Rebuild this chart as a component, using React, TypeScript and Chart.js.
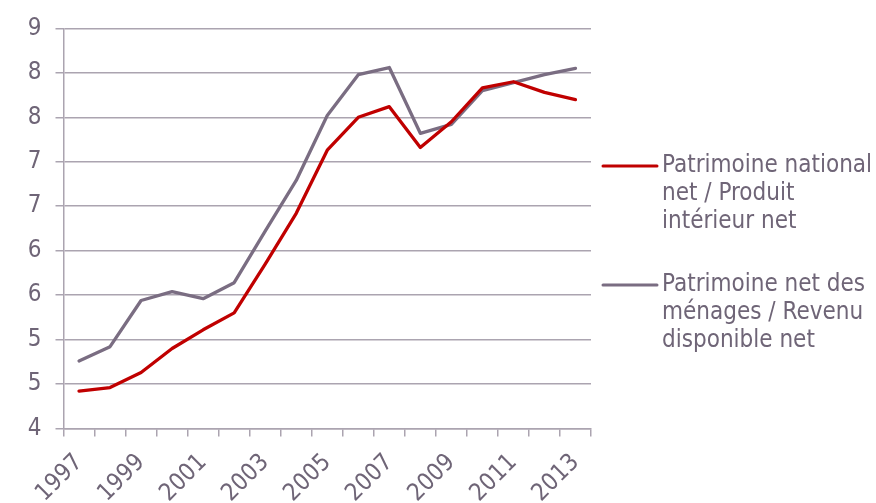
import React, { useEffect, useRef } from "react";
import { Chart, registerables } from "chart.js";

Chart.register(...registerables);

const years = ["1997","1998","1999","2000","2001","2002","2003","2004","2005","2006","2007","2008","2009","2010","2011","2012","2013"];
const patrimoineNational = [4.42, 4.46, 4.63, 4.90, 5.11, 5.30, 5.85, 6.42, 7.13, 7.50, 7.62, 7.16, 7.45, 7.83, 7.90, 7.78, 7.70];
const patrimoineMenages = [4.76, 4.92, 5.44, 5.54, 5.46, 5.64, 6.22, 6.79, 7.52, 7.98, 8.06, 7.32, 7.42, 7.80, 7.89, 7.98, 8.05];
const legendNational = ["Patrimoine national", "net / Produit", "intérieur net"];
const legendMenages = ["Patrimoine net des", "ménages / Revenu", "disponible net"];
const yMin = 4;
const yMax = 8.5;
const yStep = 0.5;

const RED = "#C00000";
const GRAY = "#7A6D82";
const TEXT = "#6F6577";
const GRID = "#ABA4B0";
const FONT = "'DejaVu Sans Condensed', 'Open Sans', sans-serif";

const legendPlugin = {
  id: "customLegend",
  afterDraw(chart: any) {
    const { ctx, chartArea } = chart;
    const items = [
      { color: RED, lines: legendNational, y: 166 },
      { color: GRAY, lines: legendMenages, y: 285 },
    ];
    const x0 = chartArea.right + 12;
    ctx.save();
    ctx.font = `24px ${FONT}`;
    ctx.textBaseline = "middle";
    ctx.textAlign = "left";
    for (const it of items) {
      ctx.strokeStyle = it.color;
      ctx.lineWidth = 3;
      ctx.lineCap = "round";
      ctx.beginPath();
      ctx.moveTo(x0, it.y);
      ctx.lineTo(x0 + 54, it.y);
      ctx.stroke();
      ctx.fillStyle = TEXT;
      it.lines.forEach((l, i) => {
        ctx.fillText(l, x0 + 59, it.y + i * 28);
      });
    }
    ctx.restore();
  },
};

export default function App() {
  const ref = useRef<HTMLCanvasElement | null>(null);
  useEffect(() => {
    if (!ref.current) return;
    const chart = new Chart(ref.current, {
      type: "line",
      data: {
        labels: years,
        datasets: [
          {
            label: legendNational.join(" "),
            data: patrimoineNational,
            borderColor: RED,
            backgroundColor: RED,
            borderWidth: 3.3,
            pointRadius: 0,
            tension: 0,
            borderJoinStyle: "round",
            borderCapStyle: "round",
          },
          {
            label: legendMenages.join(" "),
            data: patrimoineMenages,
            borderColor: GRAY,
            backgroundColor: GRAY,
            borderWidth: 3.3,
            pointRadius: 0,
            tension: 0,
            borderJoinStyle: "round",
            borderCapStyle: "round",
          },
        ],
      },
      options: {
        animation: false,
        responsive: false,
        maintainAspectRatio: false,
        layout: { padding: { top: 24, right: 285, bottom: 0, left: 0 } },
        plugins: { legend: { display: false }, tooltip: { enabled: false } },
        scales: {
          x: {
            offset: true,
            grid: { display: true, drawOnChartArea: false, drawTicks: true, tickLength: 8, offset: true, color: GRID, lineWidth: 1.5 },
            border: { display: true, color: GRID, width: 1.5 },
            ticks: {
              autoSkip: false,
              maxRotation: 45,
              minRotation: 45,
              padding: 12,
              color: TEXT,
              font: { family: FONT, size: 24 },
              callback: (_v: any, i: number) => (i % 2 === 0 ? years[i] : ""),
            },
            afterFit: (s: any) => { s.height = 74.5; },
          },
          y: {
            min: yMin,
            max: yMax,
            grid: { color: GRID, lineWidth: 1.5, drawTicks: true, tickLength: 8 },
            border: { display: true, color: GRID, width: 1.5 },
            ticks: {
              stepSize: yStep,
              padding: 14,
              color: TEXT,
              font: { family: FONT, size: 24 },
              callback: (v: any) => String(Math.round(Number(v))),
            },
            afterFit: (s: any) => { s.width = 63.5; },
          },
        },
      },
      plugins: [legendPlugin],
    });
    return () => chart.destroy();
  }, []);
  return (
    <div style={{ position: "fixed", left: 0, top: 0, width: 876, height: 503, background: "#fff" }}>
      <canvas ref={ref} width={876} height={503} style={{ width: 876, height: 503 }} />
    </div>
  );
}
